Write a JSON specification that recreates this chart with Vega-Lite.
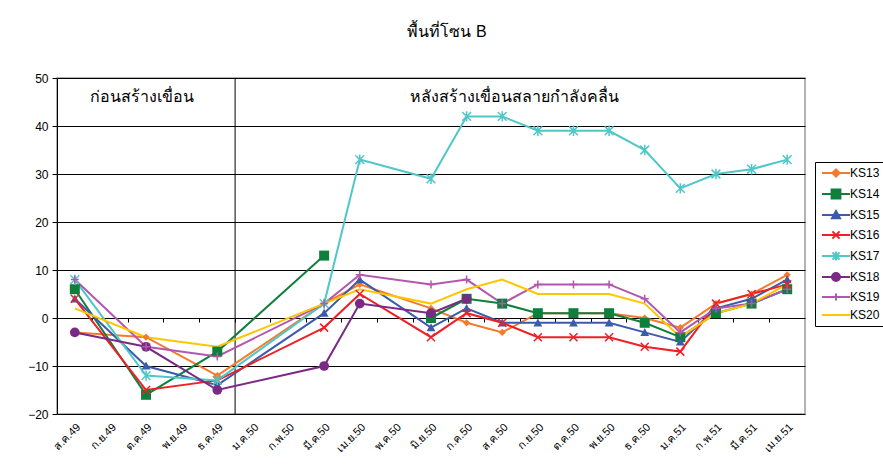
{
  "$schema": "https://vega.github.io/schema/vega-lite/v6.json",
  "autosize": {"type": "none"},
  "width": 748,
  "height": 336,
  "padding": {"left": 57, "top": 78, "right": 78, "bottom": 57},
  "background": "white",
  "title": {"text": "พื้นที่โซน B", "frame": "group", "anchor": "middle", "dx": 16, "offset": 32, "fontSize": 16, "fontWeight": "normal", "font": "Liberation Sans", "color": "black"},
  "config": {
    "view": {"stroke": "#9a9a9a", "strokeWidth": 1.5},
    "font": "Liberation Sans",
    "axis": {"labelColor": "black", "labelFont": "Liberation Sans"},
    "point": {"opacity": 1, "size": 64, "strokeWidth": 1.5}
  },
  "datasets": {
    "zone": [
      {"m": "ส.ค.49", "KS13": -3, "KS14": 6, "KS15": 4, "KS16": 4, "KS17": 8, "KS18": -3, "KS19": 8, "KS20": 2},
      {"m": "ต.ค.49", "KS13": -4, "KS14": -16, "KS15": -10, "KS16": -15, "KS17": -12, "KS18": -6, "KS19": -6, "KS20": -4},
      {"m": "ธ.ค.49", "KS13": -12, "KS14": -7, "KS15": -14, "KS16": -13, "KS17": -13, "KS18": -15, "KS19": -8, "KS20": -6},
      {"m": "มี.ค.50", "KS13": 3, "KS14": 13, "KS15": 1, "KS16": -2, "KS17": 3, "KS18": -10, "KS19": 3, "KS20": 3},
      {"m": "เม.ย.50", "KS13": 7, "KS14": null, "KS15": 8, "KS16": 5, "KS17": 33, "KS18": 3, "KS19": 9, "KS20": 6},
      {"m": "มิ.ย.50", "KS13": 2, "KS14": 0, "KS15": -2, "KS16": -4, "KS17": 29, "KS18": 1, "KS19": 7, "KS20": 3},
      {"m": "ก.ค.50", "KS13": -1, "KS14": 4, "KS15": 2, "KS16": 1, "KS17": 42, "KS18": 4, "KS19": 8, "KS20": 6},
      {"m": "ส.ค.50", "KS13": -3, "KS14": 3, "KS15": -1, "KS16": -1, "KS17": 42, "KS18": null, "KS19": 3, "KS20": 8},
      {"m": "ก.ย.50", "KS13": 1, "KS14": 1, "KS15": -1, "KS16": -4, "KS17": 39, "KS18": null, "KS19": 7, "KS20": 5},
      {"m": "ต.ค.50", "KS13": 1, "KS14": 1, "KS15": -1, "KS16": -4, "KS17": 39, "KS18": null, "KS19": 7, "KS20": 5},
      {"m": "พ.ย.50", "KS13": 1, "KS14": 1, "KS15": -1, "KS16": -4, "KS17": 39, "KS18": null, "KS19": 7, "KS20": 5},
      {"m": "ธ.ค.50", "KS13": 0, "KS14": -1, "KS15": -3, "KS16": -6, "KS17": 35, "KS18": null, "KS19": 4, "KS20": 3},
      {"m": "ม.ค.51", "KS13": -2, "KS14": -4, "KS15": -5, "KS16": -7, "KS17": 27, "KS18": null, "KS19": -3, "KS20": -4},
      {"m": "ก.พ.51", "KS13": 3, "KS14": 1, "KS15": 2, "KS16": 3, "KS17": 30, "KS18": null, "KS19": 2, "KS20": 1},
      {"m": "มี.ค.51", "KS13": 5, "KS14": 3, "KS15": 4, "KS16": 5, "KS17": 31, "KS18": null, "KS19": 3, "KS20": 3},
      {"m": "เม.ย.51", "KS13": 9, "KS14": 6, "KS15": 8, "KS16": 7, "KS17": 33, "KS18": null, "KS19": 6, "KS20": 7}
    ]
  },
  "resolve": {"axis": {"x": "independent"}},
  "layer": [
    {
      "data": {"values": [{"m": "ม.ค.50"}]},
      "mark": {"type": "rule", "color": "black", "strokeWidth": 1},
      "encoding": {
        "x": {"field": "m", "type": "ordinal", "bandPosition": 0,
          "scale": {"type": "band", "paddingInner": 0, "paddingOuter": 0,
            "domain": ["ส.ค.49","ก.ย.49","ต.ค.49","พ.ย.49","ธ.ค.49","ม.ค.50","ก.พ.50","มี.ค.50","เม.ย.50","พ.ค.50","มิ.ย.50","ก.ค.50","ส.ค.50","ก.ย.50","ต.ค.50","พ.ย.50","ธ.ค.50","ม.ค.51","ก.พ.51","มี.ค.51","เม.ย.51"]},
          "axis": {"orient": "bottom", "bandPosition": 0, "offset": -96, "labels": false, "ticks": true, "tickSize": 4, "tickColor": "black", "domain": false, "grid": false, "title": null}
        }
      }
    },
    {
      "data": {"name": "zone"},
      "transform": [{"fold": ["KS13","KS14","KS15","KS16","KS17","KS18","KS19","KS20"], "as": ["s", "v"]}],
      "mark": {"type": "line", "strokeWidth": 2, "invalid": "break-paths-filter-domains"},
      "encoding": {
        "x": {"field": "m", "type": "ordinal",
          "axis": {"orient": "bottom", "labelAngle": -45, "labelFontSize": 11, "ticks": false, "domain": false, "grid": false, "title": null, "labelPadding": 7}},
        "y": {"field": "v", "type": "quantitative",
          "scale": {"domain": [-20, 50], "nice": false, "zero": false},
          "axis": {"values": [-20,-10,0,10,20,30,40,50], "grid": true, "gridColor": "black", "gridOpacity": 1, "domainColor": "black", "tickColor": "black", "tickSize": 5, "labelFontSize": 12, "labelPadding": 4, "title": null}},
        "stroke": {"field": "s", "type": "nominal",
          "scale": {"domain": ["KS13","KS14","KS15","KS16","KS17","KS18","KS19","KS20"],
                    "range": ["#f47a2c","#0f7f3c","#3b5bab","#ee2026","#4fc7c9","#7a2a84","#b356b0","#ffc600"]},
          "legend": {
            "title": null, "orient": "none", "legendX": 758, "legendY": 84,
            "strokeColor": "black", "fillColor": "white", "padding": 5,
            "labelFontSize": 12, "labelColor": "black", "symbolSize": 64, "symbolStrokeWidth": 2,
            "symbolOffset": 10, "labelOffset": 8, "rowPadding": 4,
            "encode": {
              "symbols": {"update": {
                "fill": {"scale": "stroke", "field": "value"},
                "stroke": {"scale": "stroke", "field": "value"},
                "shape": {"signal": "datum.value==='KS13'?'M-3.5,0H3.5M0,-0.9L0.9,0L0,0.9L-0.9,0Z':datum.value==='KS14'?'M-3.5,0H3.5M-1.1,-1.1H1.1V1.1H-1.1Z':datum.value==='KS15'?'M-3.5,0H3.5M0,-1L1,0.8H-1Z':datum.value==='KS16'?'M-3.5,0H3.5M-0.9,-0.9L0.9,0.9M-0.9,0.9L0.9,-0.9':datum.value==='KS17'?'M-3.5,0H3.5M-0.9,-0.9L0.9,0.9M-0.9,0.9L0.9,-0.9M0,-1.1V1.1':datum.value==='KS18'?'M-3.5,0H3.5M1,0A1,1,0,1,1,-1,0A1,1,0,1,1,1,0Z':datum.value==='KS19'?'M-3.5,0H3.5M0,-0.9V0.9':'M-3.5,0H3.5'"}
              }}
            }
          }
        },
        "order": {"value": null}
      }
    },
    {
      "data": {"name": "zone"},
      "transform": [{"filter": {"field": "KS13", "valid": true}}],
      "mark": {"type": "point", "shape": "M0,-0.9L0.9,0L0,0.9L-0.9,0Z", "filled": true, "color": "#f47a2c"},
      "encoding": {"x": {"field": "m", "type": "ordinal", "axis": null}, "y": {"field": "KS13", "type": "quantitative"}}
    },
    {
      "data": {"name": "zone"},
      "transform": [{"filter": {"field": "KS14", "valid": true}}],
      "mark": {"type": "point", "shape": "M-1.25,-1.25H1.25V1.25H-1.25Z", "filled": true, "color": "#0f7f3c"},
      "encoding": {"x": {"field": "m", "type": "ordinal", "axis": null}, "y": {"field": "KS14", "type": "quantitative"}}
    },
    {
      "data": {"name": "zone"},
      "transform": [{"filter": {"field": "KS15", "valid": true}}],
      "mark": {"type": "point", "shape": "M0,-1.1L1.1,0.9H-1.1Z", "filled": true, "color": "#3b5bab"},
      "encoding": {"x": {"field": "m", "type": "ordinal", "axis": null}, "y": {"field": "KS15", "type": "quantitative"}}
    },
    {
      "data": {"name": "zone"},
      "transform": [{"filter": {"field": "KS16", "valid": true}}],
      "mark": {"type": "point", "shape": "M-1,-1L1,1M-1,1L1,-1", "filled": false, "color": "#ee2026"},
      "encoding": {"x": {"field": "m", "type": "ordinal", "axis": null}, "y": {"field": "KS16", "type": "quantitative"}}
    },
    {
      "data": {"name": "zone"},
      "transform": [{"filter": {"field": "KS17", "valid": true}}],
      "mark": {"type": "point", "shape": "M-1.1,-1.1L1.1,1.1M-1.1,1.1L1.1,-1.1M0,-1.3V1.3", "filled": false, "color": "#4fc7c9"},
      "encoding": {"x": {"field": "m", "type": "ordinal", "axis": null}, "y": {"field": "KS17", "type": "quantitative"}}
    },
    {
      "data": {"name": "zone"},
      "transform": [{"filter": {"field": "KS18", "valid": true}}],
      "mark": {"type": "point", "shape": "circle", "size": 95, "filled": true, "color": "#7a2a84"},
      "encoding": {"x": {"field": "m", "type": "ordinal", "axis": null}, "y": {"field": "KS18", "type": "quantitative"}}
    },
    {
      "data": {"name": "zone"},
      "transform": [{"filter": {"field": "KS19", "valid": true}}],
      "mark": {"type": "point", "shape": "M-1,0H1M0,-1V1", "filled": false, "color": "#b356b0"},
      "encoding": {"x": {"field": "m", "type": "ordinal", "axis": null}, "y": {"field": "KS19", "type": "quantitative"}}
    },
    {
      "data": {"values": [
        {"m": "ส.ค.49", "v": 46, "t": "ก่อนสร้างเขื่อน"},
        {"m": "พ.ค.50", "v": 46, "t": "หลังสร้างเขื่อนสลายกำลังคลื่น"}
      ]},
      "mark": {"type": "text", "fontSize": 16, "color": "black", "align": "left", "baseline": "middle", "dx": 15, "font": "Liberation Sans"},
      "encoding": {
        "x": {"field": "m", "type": "ordinal", "axis": null},
        "y": {"field": "v", "type": "quantitative"},
        "text": {"field": "t"}
      }
    }
  ]
}
